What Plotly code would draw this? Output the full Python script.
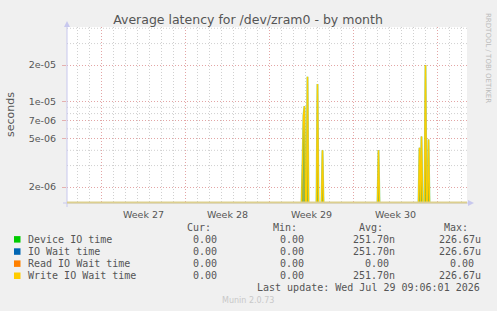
import numpy as np
import pandas as pd
import plotly.graph_objects as go

# ---------------- data ----------------
title_text = "Average latency for /dev/zram0 - by month"
series_names = ["Device IO time", "IO Wait time", "Read IO Wait time", "Write IO Wait time"]
series_colors = ["#00cc00", "#0066b3", "#ff8000", "#ffcc00"]
cur_vals = ["0.00", "0.00", "0.00", "0.00"]
min_vals = ["0.00", "0.00", "0.00", "0.00"]
avg_vals = ["251.70n", "251.70n", "0.00", "251.70n"]
max_vals = ["226.67u", "226.67u", "0.00", "226.67u"]
last_update = "Last update: Wed Jul 29 09:06:01 2026"
munin_version = "Munin 2.0.73"

y_tick_vals = [2e-6, 5e-6, 7e-6, 1e-5, 2e-5]
y_tick_text = ["2e-06", "5e-06", "7e-06", "1e-05", "2e-05"]
y_minor_vals = [3e-6, 4e-6, 6e-6, 8e-6, 9e-6, 3e-5, 4e-5]
week_labels = ["Week 27", "Week 28", "Week 29", "Week 30"]
week_starts = ["2026-06-29", "2026-07-06", "2026-07-13", "2026-07-20"]

x_start = "2026-06-26 03:00"
x_end = "2026-07-29 11:00"
y_min_val = 1.48e-6
y_max_val = 4.1e-5

# non-zero samples (2-hour consolidation); everything else is 0
spike_times = ["2026-07-15 18:00", "2026-07-15 20:00", "2026-07-15 22:00",
               "2026-07-16 04:00", "2026-07-17 00:00", "2026-07-17 10:00",
               "2026-07-22 02:00", "2026-07-25 12:00", "2026-07-25 16:00",
               "2026-07-26 00:00", "2026-07-26 06:00"]
device_vals = [3.0e-6, 7.7e-6, 9.2e-6, 1.6e-5, 1.4e-5, 4.0e-6,
               4.0e-6, 4.2e-6, 5.2e-6, 2.0e-5, 4.9e-6]
iowait_vals = device_vals
read_vals = [0.0] * len(spike_times)
write_vals = device_vals

# ---------------- build series ----------------
t = pd.date_range("2026-06-26 00:00", "2026-07-29 10:00", freq="2h")

def make_series(vals):
    s = pd.Series(0.0, index=t)
    for tt, v in zip(spike_times, vals):
        s[pd.Timestamp(tt)] = v
    # zeros sit on the bottom of the log scale, like rrdtool
    return np.where(s.values > 0, s.values, y_min_val)

W, H = 497, 311
L, R, T, B = 67, 467, 27, 203

def px(xp):
    return (xp - L) / (R - L)

def py(yp):
    return (B - yp) / (B - T)

fig = go.Figure()
fig.add_trace(go.Scatter(x=t, y=np.full(len(t), y_min_val), mode="lines",
                         line=dict(width=0), hoverinfo="skip", showlegend=False))
fig.add_trace(go.Scatter(x=t, y=make_series(device_vals), mode="lines", name=series_names[0],
                         line=dict(color="rgba(60,190,60,0.55)", width=2),
                         fill="tonexty", fillcolor="rgba(135,165,55,0.85)", showlegend=False))
fig.add_trace(go.Scatter(x=t, y=make_series(iowait_vals), mode="lines", name=series_names[1],
                         line=dict(color="rgba(0,102,179,0.15)", width=1), showlegend=False))
fig.add_trace(go.Scatter(x=t, y=make_series(read_vals), mode="lines", name=series_names[2],
                         line=dict(color=series_colors[2], width=1), showlegend=False))
fig.add_trace(go.Scatter(x=t, y=make_series(write_vals), mode="lines", name=series_names[3],
                         line=dict(color=series_colors[3], width=1.3), showlegend=False))
# helper trace for the label axis
fig.add_trace(go.Scatter(x=[x_start, x_end], y=[y_min_val, y_min_val], xaxis="x2",
                         mode="lines", line=dict(width=0), hoverinfo="skip", showlegend=False))

week_mid = [pd.Timestamp(w) + pd.Timedelta(hours=84) for w in week_starts]

grid_red = "rgba(225,160,160,0.95)"
grid_gray = "rgba(200,200,200,0.85)"
axis_col = "#c8c8ee"
yrange = [np.log10(y_min_val), np.log10(y_max_val)]

fig.update_layout(
    width=W, height=H,
    margin=dict(l=L, r=W - R, t=T, b=H - B),
    paper_bgcolor="#f0f0f0", plot_bgcolor="#ffffff",
    font=dict(family="DejaVu Sans", color="#555555", size=10),
    title=dict(text=title_text, x=248 / W, xanchor="center", xref="container",
               y=1 - 20 / H, yanchor="middle",
               font=dict(family="DejaVu Sans", size=12.5, color="#555555")),
    xaxis=dict(type="date", range=[x_start, x_end], tickmode="linear",
               tick0=week_starts[0], dtick=7 * 86400000,
               showgrid=True, gridcolor=grid_red, griddash="1px,2px", gridwidth=1,
               showticklabels=False, ticks="", zeroline=False, showline=False,
               minor=dict(dtick=86400000, tick0=week_starts[0], showgrid=True,
                          gridcolor=grid_gray, griddash="1px,2px", gridwidth=1)),
    xaxis2=dict(type="date", range=[x_start, x_end], overlaying="x", anchor="y", side="bottom",
                tickmode="array", tickvals=week_mid, ticktext=week_labels,
                showgrid=False, ticks="", ticklabelstandoff=4, zeroline=False, showline=False,
                tickfont=dict(size=9.5, color="#555555")),
    yaxis=dict(type="log", range=yrange,
               tickmode="array", tickvals=y_tick_vals, ticktext=y_tick_text,
               showgrid=True, gridcolor=grid_red, griddash="1px,2px", gridwidth=1,
               ticks="outside", ticklen=4, tickcolor="rgba(225,160,160,0.8)",
               ticklabelstandoff=4, zeroline=False, showline=False,
               tickfont=dict(size=9.5, color="#555555")),
)

shapes = []
# minor horizontal grid lines at data values
for v in y_minor_vals:
    shapes.append(dict(type="line", xref="paper", yref="y", x0=0, x1=1, y0=v, y1=v,
                       layer="below", line=dict(color=grid_gray, width=1, dash="1px,2px")))
# axis lines
shapes.append(dict(type="line", xref="paper", yref="paper", x0=px(L), x1=px(L),
                   y0=py(207), y1=py(T), line=dict(color=axis_col, width=1)))
shapes.append(dict(type="line", xref="paper", yref="paper", x0=px(63), x1=px(R + 2),
                   y0=py(B), y1=py(B), line=dict(color=axis_col, width=1)))
shapes.append(dict(type="line", xref="paper", yref="paper", x0=px(L), x1=px(R),
                   y0=py(B - 0.5), y1=py(B - 0.5), line=dict(color="#dccf8f", width=2)))
# arrows
shapes.append(dict(type="path", xref="paper", yref="paper",
                   path=f"M {px(64)} {py(27)} L {px(70)} {py(27)} L {px(67)} {py(21)} Z",
                   fillcolor=axis_col, line=dict(width=0)))
shapes.append(dict(type="path", xref="paper", yref="paper",
                   path=f"M {px(468)} {py(200)} L {px(468)} {py(206)} L {px(474)} {py(203)} Z",
                   fillcolor=axis_col, line=dict(width=0)))

ann = []
ann.append(dict(text="seconds", x=px(10), y=py(115), xref="paper", yref="paper",
                textangle=-90, showarrow=False, font=dict(size=11, color="#555555"),
                xanchor="center", yanchor="middle"))
ann.append(dict(text="RRDTOOL / TOBI OETIKER", x=px(488), y=py(58), xref="paper", yref="paper",
                textangle=90, showarrow=False, font=dict(size=7, color="#bbbbbb"),
                xanchor="center", yanchor="middle"))

mono = dict(family="DejaVu Sans Mono", size=10, color="#555555")
row_y = [239.3, 251.5, 263.6, 275.7]
header_y = 227.3
headers = ["Cur:", "Min:", "Avg:", "Max:"]
header_right = [212.7, 299, 384.5, 470]
col_right = [225.3, 311.7, 396.7, 482.5]
char_w = 6.02

for h, xr in zip(headers, header_right):
    ann.append(dict(text=h, x=px(xr), y=py(header_y), xref="paper", yref="paper",
                    showarrow=False, xanchor="right", yanchor="middle", font=mono))

cols = [cur_vals, min_vals, avg_vals, max_vals]
for i, name in enumerate(series_names):
    yy = row_y[i]
    shapes.append(dict(type="rect", xref="paper", yref="paper",
                       x0=px(14), x1=px(20.5), y0=py(yy + 3.3), y1=py(yy - 3.2),
                       fillcolor=series_colors[i], line=dict(width=0)))
    ann.append(dict(text=name, x=px(26), y=py(yy), xref="paper", yref="paper",
                    showarrow=False, xanchor="left", yanchor="middle", font=mono))
    for c, xr in zip(cols, col_right):
        v = c[i]
        right = xr if v[-1].isalpha() else xr - char_w
        ann.append(dict(text=v, x=px(right), y=py(yy), xref="paper", yref="paper",
                        showarrow=False, xanchor="right", yanchor="middle", font=mono))

ann.append(dict(text=last_update, x=px(482.3), y=py(287.7), xref="paper", yref="paper",
                showarrow=False, xanchor="right", yanchor="middle", font=mono))
ann.append(dict(text=munin_version, x=px(247.5), y=py(300), xref="paper", yref="paper",
                showarrow=False, xanchor="center", yanchor="middle",
                font=dict(family="DejaVu Sans", size=8, color="#c8c8c8")))

fig.update_layout(shapes=shapes, annotations=ann)
fig.write_html("out.html")
